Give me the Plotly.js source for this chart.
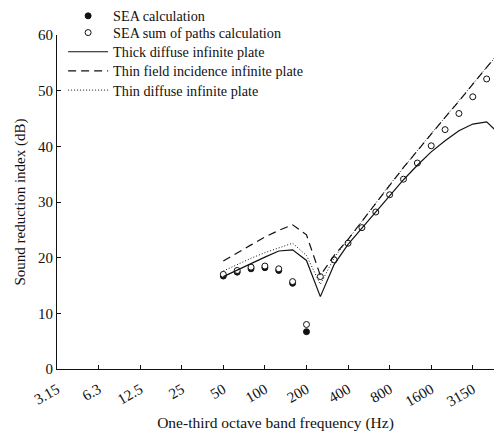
<!DOCTYPE html>
<html>
<head>
<meta charset="utf-8">
<script src="https://cdn.plot.ly/plotly-3.0.1.min.js"></script>
<style>html,body{margin:0;padding:0;background:#fff}#chart{width:494px;height:432px}</style>
</head>
<body>
<div id="chart"></div>
<script>
// One-third octave band centre frequencies (category axis)
var allBands = ['3.15','4','5','6.3','8','10','12.5','16','20','25','31.5','40',
  '50','63','80','100','125','160','200','250','315','400','500','630','800',
  '1000','1250','1600','2000','2500','3150','4000','5000'];
var tickLabels = ['3.15','6.3','12.5','25','50','100','200','400','800','1600','3150'];

var seaBands = ['50','63','80','100','125','160','200'];
var seaCalc  = [16.7, 17.4, 18.0, 18.2, 17.7, 15.4, 6.7];

var pathBands = ['50','63','80','100','125','160','200','250','315','400','500','630',
  '800','1000','1250','1600','2000','2500','3150','4000'];
var seaPaths  = [17.0, 17.7, 18.3, 18.5, 18.0, 15.7, 8.0, 16.6, 19.6, 22.6, 25.4, 28.2,
  31.3, 34.1, 37.0, 40.1, 43.0, 45.9, 48.9, 52.1];

var lineBands = ['50','63','80','100','125','160','200','250','315','400','500','630',
  '800','1000','1250','1600','2000','2500','3150','4000','5000'];
var thickDiffuse = [16.6, 17.8, 18.9, 20.1, 21.2, 21.4, 19.5, 13.0, 18.8, 22.4, 25.3, 28.1,
  31.1, 34.0, 36.6, 39.0, 41.0, 42.8, 44.0, 44.4, 42.0];
var thinField = [19.4, 20.9, 22.3, 23.7, 24.9, 25.9, 24.1, 16.8, 20.4, 23.3, 26.5, 29.8,
  33.1, 36.2, 39.2, 42.3, 45.2, 48.1, 51.2, 54.2, 57.1];
var thinDiffuse = [17.6, 18.8, 19.9, 20.9, 21.8, 22.6, 20.4, 15.2, 20.0, 23.2, 26.5, 29.8,
  33.1, 36.2, 39.2, 42.3, 45.2, 48.1, 51.2, 54.2, 57.1];

var FONT = 'Liberation Serif, Times New Roman, serif';
var ink = '#111';

var data = [
  {x: seaBands, y: seaCalc, type: 'scatter', mode: 'markers', name: 'SEA calculation',
   marker: {symbol: 'circle', size: 6, color: ink, line: {color: ink, width: 1}}, legend: 'legend'},
  {x: pathBands, y: seaPaths, type: 'scatter', mode: 'markers', name: 'SEA sum of paths calculation',
   marker: {symbol: 'circle', size: 6, color: '#fff', line: {color: ink, width: 1}}, legend: 'legend2'},
  {x: lineBands, y: thickDiffuse, type: 'scatter', mode: 'lines', name: 'Thick diffuse infinite plate',
   line: {color: ink, width: 1.2}, legend: 'legend3'},
  {x: lineBands, y: thinField, type: 'scatter', mode: 'lines', name: 'Thin field incidence infinite plate',
   line: {color: ink, width: 1.2, dash: '8px,5px'}, legend: 'legend4'},
  {x: lineBands, y: thinDiffuse, type: 'scatter', mode: 'lines', name: 'Thin diffuse infinite plate',
   line: {color: ink, width: 1.0, dash: '1px,2px'}, legend: 'legend5'}
];

function leg(y) {
  return {x: 0.014, y: y, xanchor: 'left', yanchor: 'middle', bgcolor: 'rgba(0,0,0,0)',
          font: {family: FONT, size: 14.2, color: ink}, itemwidth: 40};
}

var layout = {
  width: 494, height: 432,
  margin: {l: 57, r: 0, t: 33, b: 63},
  paper_bgcolor: '#fff', plot_bgcolor: '#fff',
  font: {family: FONT, size: 15, color: ink},
  showlegend: true,
  legend: leg(1.0565), legend2: leg(1.0064), legend3: leg(0.9491),
  legend4: leg(0.8916), legend5: leg(0.8342),
  xaxis: {
    type: 'category', categoryorder: 'array', categoryarray: allBands,
    range: [0, 31.53],
    tickmode: 'array', tickvals: tickLabels, ticktext: tickLabels,
    tickangle: -30, ticks: 'inside', ticklen: 4, tickcolor: ink, ticklabelstandoff: 5,
    showline: true, linecolor: ink, linewidth: 1, showgrid: false, zeroline: false,
    tickfont: {family: FONT, size: 15, color: ink},
    title: {text: 'One-third octave band frequency (Hz)', font: {family: FONT, size: 15.5, color: ink}, standoff: 8}
  },
  yaxis: {
    range: [0, 60], tickvals: [0, 10, 20, 30, 40, 50, 60],
    ticks: 'inside', ticklen: 4, tickcolor: ink,
    showline: true, linecolor: ink, linewidth: 1, showgrid: false, zeroline: false,
    tickfont: {family: FONT, size: 15, color: ink},
    title: {text: 'Sound reduction index (dB)', font: {family: FONT, size: 15, color: ink}, standoff: 8}
  }
};

Plotly.newPlot('chart', data, layout, {displayModeBar: false, staticPlot: true});
</script>
</body>
</html>
